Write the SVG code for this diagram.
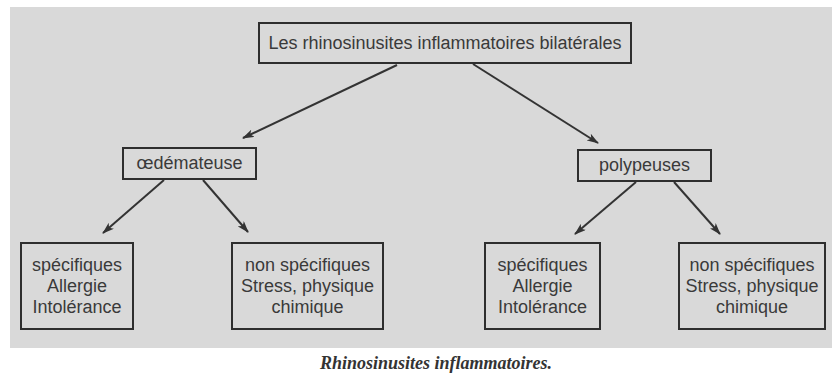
<svg xmlns="http://www.w3.org/2000/svg" width="832" height="377" viewBox="0 0 832 377">
  <style>
    .box { fill: none; stroke: #2e2e2e; stroke-width: 2; }
    .lbl { font-family: "Liberation Sans", Arial, sans-serif; font-size: 18px; fill: #3a3a3a; text-anchor: middle; }
    .edge { stroke: #333333; stroke-width: 2; fill: none; marker-end: url(#arr); }
    .cap { font-family: "Liberation Serif", "Times New Roman", serif; font-style: italic; font-weight: bold; font-size: 18px; fill: #333333; text-anchor: middle; }
  </style>
  <defs>
    <marker id="arr" markerUnits="userSpaceOnUse" markerWidth="12" markerHeight="8" refX="11" refY="4" orient="auto">
      <path d="M0,0 L12,4 L0,8 L3,4 z" fill="#333333"/>
    </marker>
  </defs>
  <rect x="0" y="0" width="832" height="377" fill="#ffffff"/>
  <rect x="10" y="7" width="822" height="341" fill="#d9d9d9"/>

  <g id="connectors">
    <line class="edge" x1="397" y1="65" x2="243" y2="138"/>
    <line class="edge" x1="473" y1="64" x2="598" y2="143"/>
    <line class="edge" x1="164" y1="180" x2="103" y2="233"/>
    <line class="edge" x1="203" y1="180" x2="248" y2="232"/>
    <line class="edge" x1="636" y1="182" x2="575" y2="234"/>
    <line class="edge" x1="674" y1="182" x2="720" y2="234"/>
  </g>

  <g id="root">
    <rect class="box" x="259" y="23" width="372" height="40"/>
    <text class="lbl" x="445" y="49">Les rhinosinusites inflammatoires bilatérales</text>
  </g>
  <g id="oedemateuse">
    <rect class="box" x="123" y="148" width="133" height="31"/>
    <text class="lbl" x="189.5" y="169">œdémateuse</text>
  </g>
  <g id="polypeuses">
    <rect class="box" x="578" y="150" width="133" height="31"/>
    <text class="lbl" x="644.5" y="171">polypeuses</text>
  </g>
  <g id="oed-specifiques">
    <rect class="box" x="21" y="243" width="112" height="86"/>
    <text class="lbl" x="77" y="271">spécifiques</text>
    <text class="lbl" x="77" y="292">Allergie</text>
    <text class="lbl" x="77" y="313">Intolérance</text>
  </g>
  <g id="oed-non-specifiques">
    <rect class="box" x="232" y="243" width="151" height="86"/>
    <text class="lbl" x="307.5" y="271">non spécifiques</text>
    <text class="lbl" x="307.5" y="292">Stress, physique</text>
    <text class="lbl" x="307.5" y="313">chimique</text>
  </g>
  <g id="pol-specifiques">
    <rect class="box" x="485" y="243" width="115" height="86"/>
    <text class="lbl" x="542.5" y="271">spécifiques</text>
    <text class="lbl" x="542.5" y="292">Allergie</text>
    <text class="lbl" x="542.5" y="313">Intolérance</text>
  </g>
  <g id="pol-non-specifiques">
    <rect class="box" x="679" y="243" width="146" height="86"/>
    <text class="lbl" x="752" y="271">non spécifiques</text>
    <text class="lbl" x="752" y="292">Stress, physique</text>
    <text class="lbl" x="752" y="313">chimique</text>
  </g>

  <text class="cap" x="436" y="369" textLength="232" lengthAdjust="spacingAndGlyphs">Rhinosinusites inflammatoires.</text>
</svg>
